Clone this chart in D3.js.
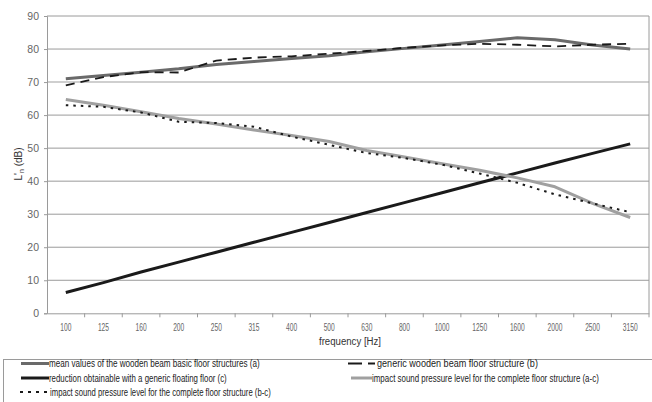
<!DOCTYPE html>
<html><head><meta charset="utf-8">
<script src="https://cdn.jsdelivr.net/npm/d3@7"></script>
<style>body{margin:0;background:#fff}svg{display:block;font-family:"Liberation Sans",Arial,sans-serif}</style>
</head><body><svg id="c" width="652" height="402"></svg>
<script>
const categories = ["100","125","160","200","250","315","400","500","630","800","1000","1250","1600","2000","2500","3150"];
const yTicks = [0,10,20,30,40,50,60,70,80,90];
const seriesA  = [71,72,73,74,75.3,76.2,77.1,78,79.2,80.2,81.2,82.3,83.4,82.8,81.2,80];
const seriesB  = [69,71.5,73,72.9,76.5,77.4,77.8,78.6,79.4,80.4,81.1,81.6,81.3,80.8,81.3,81.6];
const seriesC  = [6.3,9.3,12.5,15.5,18.5,21.5,24.5,27.5,30.5,33.5,36.5,39.5,42.5,45.5,48.4,51.3];
const seriesAC = [64.7,63,61,59,57.3,55.5,53.8,52,49.3,47.3,45.3,43.3,41,38.3,33.3,29];
const seriesBC = [63,62.5,60.8,58,57.6,56.5,53.5,51,48.5,47,45,42.3,39.5,36,33.3,30.6];
const legendLabels = [
  "mean values of the wooden beam basic floor structures (a)",
  "generic wooden beam floor structure (b)",
  "reduction obtainable  with a generic floating floor (c)",
  "impact sound pressure level for the complete floor structure (a-c)",
  "impact sound pressure level for the complete floor structure (b-c)"
];

const svg = d3.select("#c");
const x = d3.scaleBand().domain(categories).range([47,649]).padding(0);
const y = d3.scaleLinear().domain([0,90]).range([313.3,16]);
const cx = c => x(c) + x.bandwidth()/2;

// gridlines
svg.append("g").selectAll("line").data(yTicks.filter(t=>t>0)).join("line")
  .attr("x1",47).attr("x2",649).attr("y1",d=>y(d)).attr("y2",d=>y(d))
  .attr("stroke",d=>d===70?"#cfcfcf":"#9a9a9a").attr("stroke-width",d=>d===70?2:1);
// right border
svg.append("line").attr("x1",649).attr("x2",649).attr("y1",y(90)).attr("y2",y(0)).attr("stroke","#9a9a9a");

// y axis
const ya = svg.append("g").attr("transform","translate(47,0)")
  .call(d3.axisLeft(y).tickValues(yTicks).tickSize(3).tickPadding(5));
ya.select(".domain").attr("stroke","#9a9a9a");
ya.selectAll(".tick line").attr("stroke","#9a9a9a");
ya.selectAll("text").attr("fill","#666").attr("font-size",10.5).attr("font-family","Liberation Sans, Arial");

// x axis
const xa = svg.append("g").attr("transform",`translate(0,${y(0)})`)
  .call(d3.axisBottom(x).tickSize(0).tickPadding(10));
xa.select(".domain").attr("stroke","#9a9a9a");
xa.selectAll("text").attr("fill","#666").attr("font-size",10.5).attr("font-family","Liberation Sans, Arial")
  .attr("textLength",d=>d.length*3.7).attr("lengthAdjust","spacingAndGlyphs");
// ticks at band edges
svg.append("g").selectAll("line").data(categories.slice(1).concat(["end"])).join("line")
  .attr("x1",d=>d==="end"?649:x(d)).attr("x2",d=>d==="end"?649:x(d))
  .attr("y1",y(0)).attr("y2",y(0)+4).attr("stroke","#9a9a9a");

// axis titles
svg.append("text").attr("x",350).attr("y",345).attr("text-anchor","middle")
  .attr("font-size",10).attr("fill","#333").attr("textLength",62).attr("lengthAdjust","spacingAndGlyphs")
  .text("frequency [Hz]");
const yt = svg.append("text").attr("transform","translate(22,164) rotate(-90)")
  .attr("text-anchor","middle").attr("font-size",10).attr("fill","#333");
yt.append("tspan").text("L'");
yt.append("tspan").attr("font-size",7).attr("dy",2).text("n");
yt.append("tspan").attr("dy",-2).text(" (dB)");

// series
const line = d3.line().x((d,i)=>cx(categories[i])).y(d=>y(d));
const styles = [
  {data:seriesA, stroke:"#6a6a6a", w:3, dash:null},
  {data:seriesB, stroke:"#1a1a1a", w:1.8, dash:"9,6"},
  {data:seriesC, stroke:"#1a1a1a", w:3, dash:null},
  {data:seriesAC, stroke:"#a0a0a0", w:3, dash:null},
  {data:seriesBC, stroke:"#1a1a1a", w:2, dash:"2.5,5"}
];
svg.append("g").selectAll("path").data(styles).join("path")
  .attr("d",d=>line(d.data)).attr("fill","none")
  .attr("stroke",d=>d.stroke).attr("stroke-width",d=>d.w)
  .attr("stroke-dasharray",d=>d.dash).attr("stroke-linejoin","round");

// legend
svg.append("rect").attr("x",3.5).attr("y",359.5).attr("width",660).attr("height",60)
  .attr("fill","none").attr("stroke","#9a9a9a");
const legendItems = [
  {s:0, x:21, y:363.5, tx:49, tw:211, sw:28, dash:null},
  {s:1, x:348, y:363.5, tx:377, tw:161, sw:27, dash:"14,6"},
  {s:2, x:21, y:378, tx:49, tw:178, sw:28, dash:null},
  {s:3, x:351, y:378, tx:372, tw:227, sw:21, dash:null},
  {s:4, x:20, y:392, tx:50, tw:221, sw:29, dash:"3,5"}
];
const lg = svg.append("g").selectAll("g").data(legendItems).join("g");
lg.append("line").attr("x1",d=>d.x).attr("x2",d=>d.x+d.sw).attr("y1",d=>d.y).attr("y2",d=>d.y)
  .attr("stroke",d=>styles[d.s].stroke).attr("stroke-width",d=>styles[d.s].w)
  .attr("stroke-dasharray",d=>d.dash);
lg.append("text").attr("font-size",10).attr("fill","#222")
  .text(d=>legendLabels[d.s])
  .each(function(d){
    const w = this.getComputedTextLength() || d.tw;
    const sx = d.tw / w;
    d3.select(this).attr("transform",`translate(${d.tx},${d.y+3.5}) scale(${sx},1)`);
  });
</script></body></html>
